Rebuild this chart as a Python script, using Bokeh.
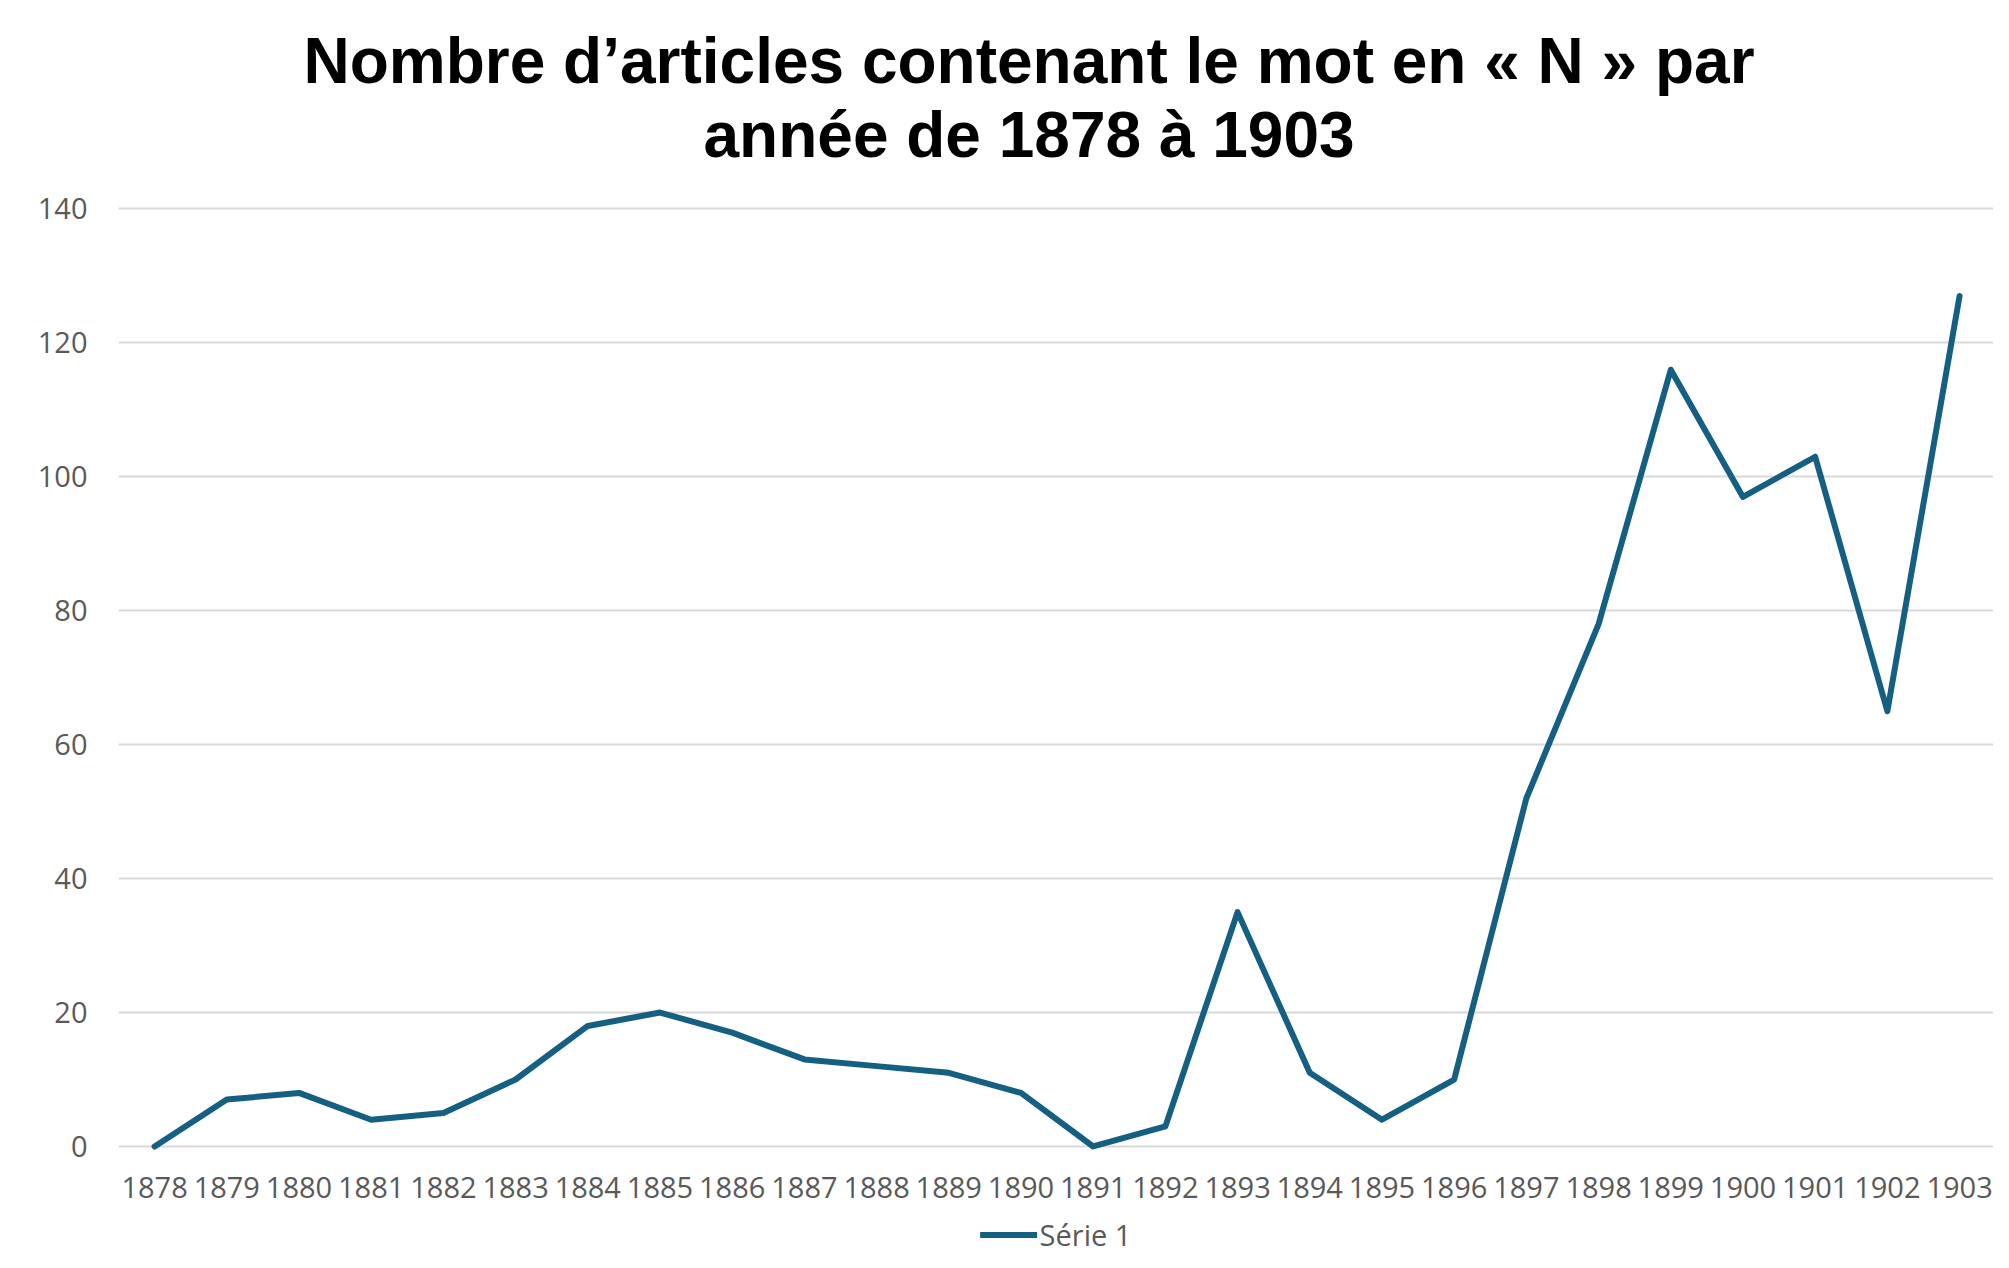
from bokeh.plotting import figure
from bokeh.layouts import column
from bokeh.models import (Range1d, FixedTicker, Legend, LegendItem, Title)
from bokeh.embed import file_html
from bokeh.resources import INLINE

# ---- data ----
years = [1878, 1879, 1880, 1881, 1882, 1883, 1884, 1885, 1886, 1887, 1888, 1889, 1890,
         1891, 1892, 1893, 1894, 1895, 1896, 1897, 1898, 1899, 1900, 1901, 1902, 1903]
year_labels = ["1878", "1879", "1880", "1881", "1882", "1883", "1884", "1885", "1886",
               "1887", "1888", "1889", "1890", "1891", "1892", "1893", "1894", "1895",
               "1896", "1897", "1898", "1899", "1900", "1901", "1902", "1903"]
counts = [0, 7, 8, 4, 5, 10, 18, 20, 17, 13, 12, 11, 8, 0, 3, 35, 11, 4, 10,
          52, 78, 116, 97, 103, 65, 127]
y_ticks = [0, 20, 40, 60, 80, 100, 120, 140]
series_name = "Série 1"
title_line1 = "Nombre d’articles contenant le mot en « N » par"
title_line2 = "année de 1878 à 1903"

LINE_COLOR = "#156082"
GRID_COLOR = "#D9D9D9"
TEXT_COLOR = "#595959"

W = 1993
FRAME_LEFT, FRAME_TOP, FRAME_BOTTOM = 118, 188, 1166
BOTTOM_BORDER = 50
LEGEND_H = 36

p = figure(frame_width=W - FRAME_LEFT, frame_height=FRAME_BOTTOM - FRAME_TOP,
           output_backend="svg", toolbar_location=None,
           x_range=Range1d(1877.5, 1903.47), y_range=Range1d(-2.99, 143.06),
           min_border_left=FRAME_LEFT, min_border_right=0, min_border_top=FRAME_TOP,
           min_border_bottom=BOTTOM_BORDER, title=None)

p.outline_line_color = None
p.background_fill_color = "white"
p.border_fill_color = "white"

r = p.line(years, counts, line_color=LINE_COLOR, line_width=6,
           line_join="round", line_cap="round")

# grid
p.xgrid.grid_line_color = None
p.ygrid.grid_line_color = GRID_COLOR
p.ygrid.grid_line_width = 2
p.ygrid.ticker = FixedTicker(ticks=y_ticks)

# y axis
p.yaxis.ticker = FixedTicker(ticks=y_ticks)
p.yaxis.axis_line_color = None
p.yaxis.major_tick_line_color = None
p.yaxis.minor_tick_line_color = None
p.yaxis.major_tick_out = 0
p.yaxis.major_tick_in = 0
p.yaxis.major_label_standoff = 31
p.yaxis.major_label_text_font = "Open Sans"
p.yaxis.major_label_text_font_size = "29px"
p.yaxis.major_label_text_color = TEXT_COLOR

# x axis
p.xaxis.ticker = FixedTicker(ticks=years)
p.xaxis.major_label_overrides = {y: lab for y, lab in zip(years, year_labels)}
p.xaxis.axis_line_color = None
p.xaxis.major_tick_line_color = None
p.xaxis.minor_tick_line_color = None
p.xaxis.major_tick_out = 0
p.xaxis.major_tick_in = 0
p.xaxis.major_label_standoff = 10
p.xaxis.major_label_text_font = "Open Sans"
p.xaxis.major_label_text_font_size = "29px"
p.xaxis.major_label_text_color = TEXT_COLOR

# titles (line 2 added first: closest to the frame)
t2 = Title(text=title_line2, align="left", offset=585,
           text_font="Liberation Sans", text_font_style="bold",
           text_font_size="64px", text_color="black", standoff=36)
t1 = Title(text=title_line1, align="left", offset=185,
           text_font="Liberation Sans", text_font_style="bold",
           text_font_size="64px", text_color="black", standoff=-36)
p.add_layout(t2, "above")
p.add_layout(t1, "above")

# legend strip under the chart
pl = figure(width=W, height=LEGEND_H, output_backend="svg", toolbar_location=None,
            x_axis_type=None, y_axis_type=None,
            min_border_left=23, min_border_right=0, min_border_top=0,
            min_border_bottom=0, title=None)
pl.outline_line_color = None
pl.background_fill_color = "white"
pl.border_fill_color = "white"
r_leg = pl.line(years, counts, line_color=LINE_COLOR, line_width=6,
                line_join="round", line_cap="round", visible=False)
legend = Legend(items=[LegendItem(label=series_name, renderers=[r_leg])],
                location="center", orientation="horizontal",
                padding=0, margin=0, spacing=0,
                border_line_color=None, background_fill_alpha=0,
                label_text_font="Open Sans", label_text_font_size="29px",
                label_text_color=TEXT_COLOR, glyph_width=57, glyph_height=20,
                label_standoff=3)
pl.add_layout(legend, "center")

layout = column(p, pl, spacing=0)
open("out.html", "w").write(file_html(layout, INLINE))
